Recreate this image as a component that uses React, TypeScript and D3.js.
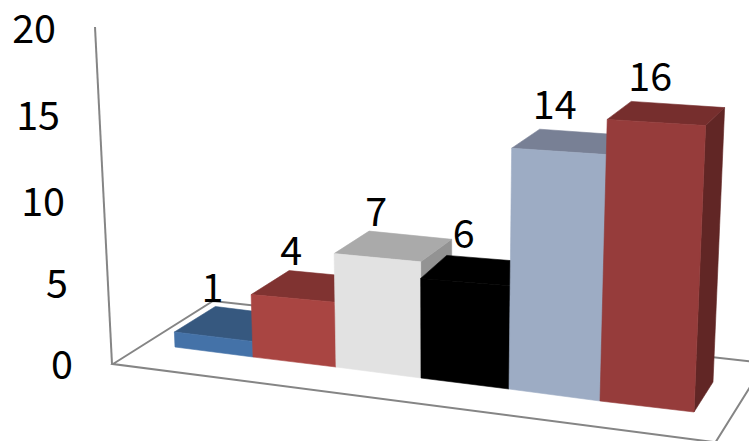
import React from "react";
import * as d3 from "d3";

const categories = ["A", "B", "C", "D", "E", "F"];
const values = [1, 4, 7, 6, 14, 16];
const frontColors = ["#4472A8", "#A94542", "#E2E2E2", "#000000", "#9DACC4", "#963C3B"];
const topColors = ["#36587F", "#803331", "#AAAAAA", "#000000", "#788095", "#762E2D"];
const sideColors = ["#2B4566", "#662927", "#939393", "#000000", "#5E6677", "#612625"];
const axisTicks = [0, 5, 10, 15, 20];

const edges = d3.range(categories.length + 1);
const floorX = d3.scaleLinear().domain(edges).range([175, 253, 336, 421, 509, 600, 694]);
const floorY = d3.scaleLinear().domain(edges).range([347, 357, 367, 378, 389, 401, 412]);
const unitHeight = d3.scaleLinear().domain(edges).range([15, 15.6, 16.2, 16.6, 17.2, 17.6, 17.9]);
const depthXLeft = d3.scaleLinear().domain(edges).range([41, 38, 35, 26, 28, 24, 19]);
const depthXRight = d3.scaleLinear().domain(edges).range([41, 38, 35, 31, 28, 24, 19]);
const depthY = d3.scaleLinear().domain([0, 1, 16]).range([-30, -25.5, -18]);
const tickY = d3.scaleLinear().domain(axisTicks).range([379, 298, 216, 130, 43]);
const tickRight = d3.scaleLinear().domain(axisTicks).range([73, 68, 65, 60, 56]);
const axisX = d3.scaleLinear().domain([0, 20]).range([112, 95]);
const axisY = d3.scaleLinear().domain([0, 20]).range([364, 27]);
const labelDx = d3.scaleLinear().domain(d3.range(6)).range([-3, 2, 7, 17, 15, 19]);
const labelDy = d3.scaleLinear().domain(d3.range(6)).range([-5, -5.5, -5, -7, -10.5, -10]);

const VANISH_X = 440;
const LEAN = 0.00016;

type P = [number, number];
const front = (edge: number, v: number): P => {
  const h = unitHeight(edge) * v;
  const bx = floorX(edge);
  return [bx + (bx - VANISH_X) * LEAN * h, floorY(edge) - h];
};
const backLeft = (edge: number, v: number): P => {
  const p = front(edge, v);
  return [p[0] + depthXLeft(edge), p[1] + depthY(v)];
};
const backRight = (edge: number, v: number): P => {
  const p = front(edge, v);
  return [p[0] + depthXRight(edge), p[1] + depthY(v)];
};
const poly = (pts: P[]) => d3.line()(pts) + "Z";

const floorFrontLeft: P = [113, 364];
const floorBackLeft: P = [213, 301];
const floorBackRight: P = [765, 363];
const floorFrontRight: P = [715.5, 442.3];

export default function App() {
  const font = "'Noto Sans CJK KR', 'Noto Sans', sans-serif";
  return (
    <svg
      width={749}
      height={441}
      viewBox="0 0 749 441"
      style={{ position: "absolute", left: 0, top: 0, display: "block", background: "#fff" }}
    >
      <path
        d={poly([floorFrontLeft, floorBackLeft, floorBackRight, floorFrontRight])}
        fill="#fff"
        stroke="#858585"
        strokeWidth={2}
      />
      <path
        d={d3.line()([[axisX(20), axisY(20)], [axisX(0), axisY(0)]] as P[]) ?? ""}
        fill="none"
        stroke="#858585"
        strokeWidth={2}
      />
      {axisTicks.map((t) => (
        <text key={t} x={tickRight(t)} y={tickY(t)} textAnchor="end" fontFamily={font} fontSize={39.5} fill="#000">
          {t}
        </text>
      ))}
      {categories.map((c, i) => {
        const v = values[i];
        const fl0 = front(i, 0);
        const fr0 = front(i + 1, 0);
        const fl = front(i, v);
        const fr = front(i + 1, v);
        const bl = backLeft(i, v);
        const br = backRight(i + 1, v);
        const br0 = backRight(i + 1, 0);
        return (
          <g key={c} strokeWidth={0.6} strokeLinejoin="round">
            <path d={poly([fr0, br0, br, fr])} fill={sideColors[i]} stroke={sideColors[i]} />
            <path d={poly([fl, bl, br, fr])} fill={topColors[i]} stroke={topColors[i]} />
            <path d={poly([fl0, fr0, fr, fl])} fill={frontColors[i]} stroke={frontColors[i]} />
          </g>
        );
      })}
      {categories.map((c, i) => {
        const bl = backLeft(i, values[i]);
        return (
          <text
            key={c}
            x={bl[0] + labelDx(i)}
            y={bl[1] + labelDy(i)}
            textAnchor="middle"
            fontFamily={font}
            fontSize={39.5}
            fill="#000"
          >
            {values[i]}
          </text>
        );
      })}
    </svg>
  );
}
